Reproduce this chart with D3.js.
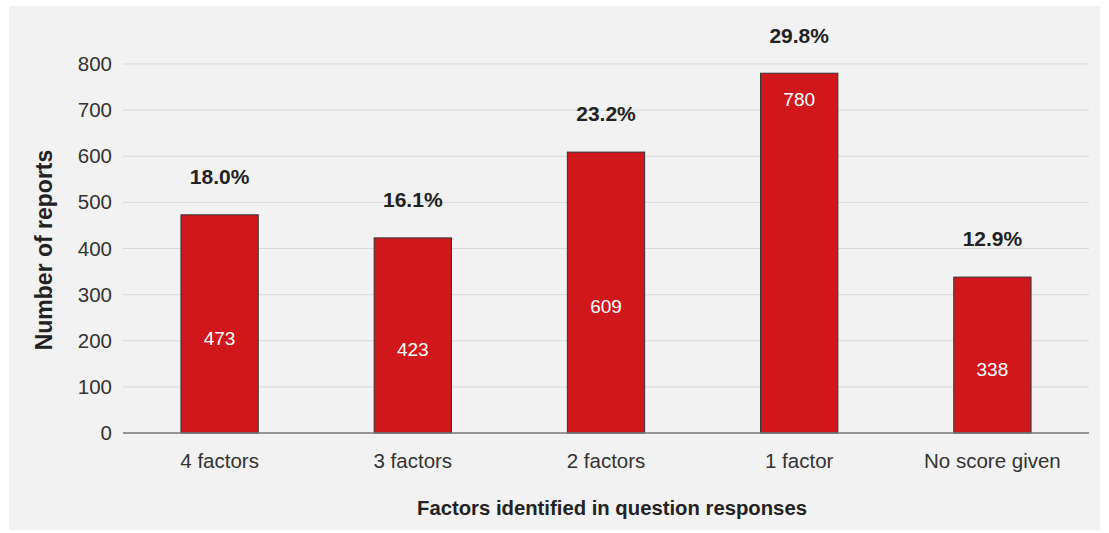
<!DOCTYPE html>
<html><head><meta charset="utf-8">
<script src="https://cdn.jsdelivr.net/npm/d3@7"></script>
<style>body{margin:0;background:#fff;} text{font-family:"Liberation Sans",Arial,sans-serif;}</style>
</head><body><svg id="c" width="1109" height="533"></svg>
<script>
const categories = ["4 factors","3 factors","2 factors","1 factor","No score given"];
const values = [473,423,609,780,338];
const percents = ["18.0%","16.1%","23.2%","29.8%","12.9%"];
const yTicks = [0,100,200,300,400,500,600,700,800];
const yTitle = "Number of reports";
const xTitle = "Factors identified in question responses";

const svg = d3.select("#c");
svg.append("rect").attr("x",9).attr("y",6).attr("width",1091).attr("height",524).attr("fill","#f2f2f2");

const x = d3.scaleBand().domain(categories).range([123,1089]).paddingInner(0.6).paddingOuter(0.3);
const y = d3.scaleLinear().domain([0,800]).range([433,64]);

// gridlines
svg.append("g").selectAll("line").data(yTicks.filter(d=>d>0)).join("line")
  .attr("x1",123).attr("x2",1089).attr("y1",d=>y(d)).attr("y2",d=>y(d))
  .attr("stroke","#d9d9d9").attr("stroke-width",1);

// y axis
const ya = svg.append("g").attr("transform","translate(123,0)")
  .call(d3.axisLeft(y).tickValues(yTicks).tickSize(0).tickPadding(11));
ya.select(".domain").remove();
ya.selectAll("text").attr("font-size",20.5).attr("fill","#333").style("font-family","Liberation Sans, Arial, sans-serif");

// bars
svg.append("g").selectAll("rect").data(values).join("rect")
  .attr("x",(d,i)=>x(categories[i])).attr("width",x.bandwidth())
  .attr("y",d=>y(d)).attr("height",d=>y(0)-y(d))
  .attr("fill","#cf171c").attr("stroke","#333").attr("stroke-width",1);

// baseline
svg.append("line").attr("x1",123).attr("x2",1089).attr("y1",y(0)).attr("y2",y(0))
  .attr("stroke","#777").attr("stroke-width",1.5);

// x axis labels
const xa = svg.append("g").attr("transform",`translate(0,${y(0)})`)
  .call(d3.axisBottom(x).tickSize(0).tickPadding(20));
xa.select(".domain").remove();
xa.selectAll("text").attr("font-size",20.5).attr("fill","#333").style("font-family","Liberation Sans, Arial, sans-serif");

// percent labels
const maxV = d3.max(values);
svg.append("g").selectAll("text").data(percents).join("text")
  .attr("x",(d,i)=>x(categories[i])+x.bandwidth()/2)
  .attr("y",(d,i)=>y(values[i])-38).attr("dy","0.35em")
  .attr("text-anchor","middle").attr("font-size",21).attr("font-weight","bold").attr("fill","#222")
  .text(d=>d);

// value labels
svg.append("g").selectAll("text").data(values).join("text")
  .attr("x",(d,i)=>x(categories[i])+x.bandwidth()/2)
  .attr("y",d=> d===maxV ? y(d)+26 : (y(d)+y(0))/2+14).attr("dy","0.35em")
  .attr("text-anchor","middle").attr("font-size",19).attr("fill","#fff")
  .text(d=>d);

// titles
svg.append("text").attr("x",612).attr("y",508).attr("dy","0.35em").attr("text-anchor","middle")
  .attr("font-size",20.3).attr("font-weight","bold").attr("fill","#222").text(xTitle);
svg.append("text").attr("transform","translate(44,250) rotate(-90)").attr("dy","0.35em").attr("text-anchor","middle")
  .attr("font-size",23).attr("font-weight","bold").attr("fill","#222").text(yTitle);
</script></body></html>
